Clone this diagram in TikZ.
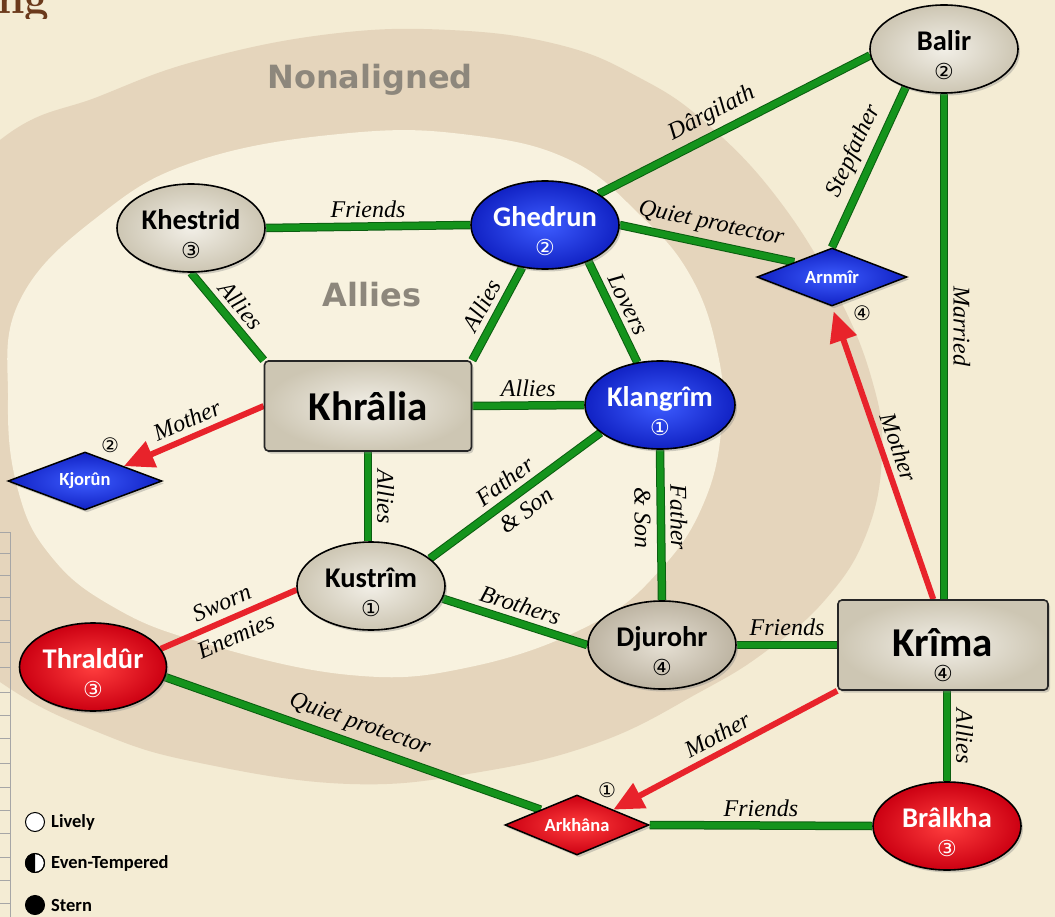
\documentclass[tikz,border=0pt]{standalone}
\usepackage{fontspec}
\newfontfamily\carlito{Carlito}
\newfontfamily\dejavu{DejaVu Sans}
\newfontfamily\libserif{Liberation Serif}
\usetikzlibrary{shapes.geometric,arrows.meta,shadows}
\pgfdeclarelayer{back}
\pgfdeclarelayer{edges}
\pgfsetlayers{back,edges,main}

\definecolor{parch}{HTML}{F4ECD4}
\definecolor{bandfill}{HTML}{E5D5BC}
\definecolor{innerfill}{HTML}{F8F2DF}
\definecolor{gline}{HTML}{14931C}
\definecolor{glinedark}{HTML}{0B5E10}
\definecolor{rline}{HTML}{E8232B}
\definecolor{graylt}{HTML}{F2EFE7}
\definecolor{graydk}{HTML}{CDC6B3}
\definecolor{djult}{HTML}{E6E0D4}
\definecolor{djudk}{HTML}{BDB4A2}
\definecolor{bluelt}{HTML}{3D5CFF}
\definecolor{bluedk}{HTML}{1122C4}
\definecolor{redlt}{HTML}{FF3E3E}
\definecolor{reddk}{HTML}{CC0012}
\definecolor{regiontext}{HTML}{8D877C}
\definecolor{titlebrown}{HTML}{6B3A1C}

\newcommand{\nmfont}{\carlito\bfseries\fontsize{28.5}{30}\selectfont}
\newcommand{\bigfont}{\carlito\bfseries\fontsize{41}{40}\selectfont}
\newcommand{\dmfont}{\carlito\bfseries\fontsize{18.5}{20}\selectfont}
\newcommand{\numf}{\dejavu\mdseries\upshape\fontsize{22}{22}\selectfont}
\newcommand{\onumf}{\dejavu\mdseries\upshape\fontsize{20}{20}\selectfont}
\newcommand{\lblfont}{\libserif\itshape\fontsize{24}{26}\selectfont}
\newcommand{\lbltwofont}{\libserif\itshape\fontsize{24}{36}\selectfont}
\newcommand{\legfont}{\carlito\bfseries\fontsize{18.5}{20}\selectfont}
\newcommand{\regfont}{\dejavu\bfseries\fontsize{32}{34}\selectfont}
\newcommand{\tstrut}{\rule{0pt}{33pt}}
\newcommand{\bstrut}{\rule{0pt}{49pt}}

\tikzset{
  shad/.style={drop shadow={shadow xshift=2pt, shadow yshift=-2.5pt, opacity=0.35}},
  pers/.style={ellipse, draw=black, line width=1.6pt, minimum width=148pt,
    minimum height=88pt, inner sep=0pt, align=center, font=\nmfont, shad},
  grayp/.style={pers, inner color=graylt, outer color=graydk, text=black},
  djup/.style={pers, inner color=djult, outer color=djudk, text=black},
  bluep/.style={pers, inner color=bluelt, outer color=bluedk, text=white},
  redp/.style={pers, inner color=redlt, outer color=reddk, text=white},
  dia/.style={diamond, aspect=2.5, draw=black, line width=1.5pt, minimum width=150pt,
    minimum height=58pt, inner sep=0pt, font=\dmfont, text=white, shad},
  bluedia/.style={dia, inner color=bluelt, outer color=bluedk},
  reddia/.style={dia, inner color=redlt, outer color=reddk},
  box/.style={rectangle, rounded corners=4pt, draw=black!85, line width=1.6pt,
    minimum width=207pt, minimum height=90pt, inner color=graylt, outer color=graydk,
    align=center, font=\bigfont, text=black, shad},
  gedge/.style={draw=gline, line width=6.5pt, preaction={draw=glinedark, line width=8.5pt}},
  redge/.style={draw=rline, line width=6pt},
  rarrow/.style={redge, -{Triangle[length=30pt,width=27pt]}},
  lbl/.style={font=\lblfont, text=black, inner sep=2pt},
  lbltwo/.style={font=\lbltwofont, text=black, inner sep=0pt, align=center},
  outnum/.style={font=\onumf, text=black, inner sep=0pt},
  legdot/.style={circle, draw=black, line width=1pt, minimum size=19pt, inner sep=0pt},
  legtext/.style={anchor=west, font=\legfont, text=black, inner sep=0pt},
  region/.style={font=\regfont, text=regiontext},
  tick/.style={draw=black!35, line width=0.8pt}
}

\begin{document}
\begin{tikzpicture}[x=1pt, y=-1pt]
\useasboundingbox (0,0) rectangle (1055,917);

\begin{pgfonlayer}{back}
  \clip (0,0) rectangle (1055,917);
  \fill[parch] (0,0) rectangle (1055,917);
  \fill[bandfill] plot[smooth cycle, tension=0.7] coordinates {
    (-150,420) (-110,260) (0,140) (100,96) (200,60) (330,34) (450,30) (560,45)
    (640,78) (705,122) (775,195) (835,290) (872,380) (882,455) (866,535)
    (825,600) (765,652) (700,692) (600,742) (480,772) (350,784) (200,763)
    (100,733) (0,682) (-110,590)};
  \fill[innerfill] plot[smooth cycle, tension=0.7] coordinates {
    (8,400) (20,300) (100,215) (200,160) (350,133) (470,135) (570,160)
    (640,215) (690,275) (717,350) (722,420) (705,500) (660,570) (590,625)
    (470,667) (350,675) (200,642) (110,605) (50,555) (18,490)};
  \node[region] (nonal) at (370,80) {Nonaligned};
  \node[region] (allreg) at (372,295) {Allies};
  % table fragment on the left edge
  \draw[tick] (10,532) -- (10,917);
  \foreach \yy in {532,553,575,597,620,642,667,692,715,738,763,787,810,833,857,880,903}
    \draw[tick] (0,\yy) -- (10,\yy);
  \begin{scope}
    \clip (0,0) rectangle (70,19);
    \node[anchor=base west, inner sep=0pt, text=titlebrown,
      font=\rmfamily\bfseries\fontsize{44}{44}\selectfont] (title) at (-3,14) {ng};
  \end{scope}
\end{pgfonlayer}

% nodes
\node[grayp] (khe) at (191,228) {\tstrut Khestrid\\[-1pt]{\numf ③}};
\node[bluep] (ghe) at (545,225) {\tstrut Ghedrun\\[-1pt]{\numf ②}};
\node[grayp] (bal) at (944,49) {\tstrut Balir\\[-1pt]{\numf ②}};
\node[bluedia] (arn) at (832,277) {Arnmîr};
\node[box] (khr) at (368,406) {Khrâlia};
\node[bluep, minimum width=150pt] (kla) at (660,405) {\tstrut Klangrîm\\[-1pt]{\numf ①}};
\node[bluedia, minimum width=154pt] (kjo) at (85,481) {Kjorûn};
\node[grayp, minimum height=86pt] (kus) at (371,586) {\tstrut Kustrîm\\[-1pt]{\numf ①}};
\node[djup] (dju) at (662,645) {\tstrut Djurohr\\[-1pt]{\numf ④}};
\node[box, minimum width=210pt] (kri) at (943,645) {\bstrut Krîma\\[-15pt]{\numf ④}};
\node[redp, minimum width=147pt, minimum height=86pt] (thr) at (93,667) {\tstrut Thraldûr\\[-1pt]{\numf ③}};
\node[reddia, minimum width=144pt, minimum height=60pt] (ark) at (577,825) {Arkhâna};
\node[redp] (bra) at (947,826) {\tstrut Brâlkha\\[-1pt]{\numf ③}};

\node[outnum] (arnnum) at (862,313) {④};
\node[outnum] (kjonum) at (110,445) {②};
\node[outnum] (arknum) at (607,790) {①};

% connectors
\begin{pgfonlayer}{edges}
\draw[gedge] (khe.east) -- node[lbl,above=4pt] {Friends} (ghe.west);
\draw[gedge] (khe.south) -- node[lbl,sloped,above=4pt] {Allies} (khr.north west);
\draw[gedge] (ghe) -- node[lbl,sloped,above=4pt] {Allies} (khr.north east);
\draw[gedge] (ghe.-40) -- node[lbl,sloped,above=4pt] {Lovers} (kla.118);
\draw[gedge] (ghe.30) -- node[lbl,sloped,above=4pt,pos=0.45] {Dârgilath} (bal.185);
\draw[gedge] (ghe.east) -- node[lbl,sloped,above=4pt] {Quiet protector} (arn.north west);
\draw[gedge] (bal.225) -- node[lbl,sloped,above=4pt,pos=0.45] {Stepfather} (arn.north);
\draw[gedge] (bal.south) -- node[lbl,sloped,above=4pt,pos=0.46] {Married} (bal.south |- kri.north);
\draw[gedge] (khr.east) -- node[lbl,above=4pt] {Allies} (kla.west);
\draw[gedge] (khr.south) -- node[lbl,sloped,above=4pt] {Allies} (khr.south |- kus.north);
\draw[gedge] (kla.205) -- node[lbltwo,sloped] {Father\\\& Son} (kus.25);
\draw[gedge] (kla.south) -- node[lbltwo,sloped,pos=0.45] {Father\\\& Son} (dju.north);
\draw[gedge] (kus.-10) -- node[lbl,sloped,above=4pt] {Brothers} (dju.west);
\draw[gedge] (dju.east) -- node[lbl,above=4pt] {Friends} (kri.west);
\draw[gedge] (thr.-8) -- node[lbl,sloped,above=4pt] {Quiet protector} (ark.north west);
\draw[gedge] (ark.east) -- node[lbl,above=4pt] {Friends} (bra.west);
\draw[gedge] (kri.south -| bra.north) -- node[lbl,sloped,above=4pt] {Allies} (bra.north);
\draw[redge] (kus.183) -- node[lbltwo,sloped] {Sworn\\Enemies} (thr.15);
\draw[rarrow] (khr.west) -- node[lbl,sloped,above=4pt] {Mother} (kjo.north east);
\draw[rarrow, shorten >=5pt] (kri.102) -- node[lbl,sloped,above=4pt] {Mother} (arn.south);
\draw[rarrow] (kri.south west) -- node[lbl,sloped,above=4pt] {Mother} (ark.north east);
\end{pgfonlayer}

% legend
\node[legdot, fill=white] (lively) at (35,822) {};
\node[legtext] (livelyt) at (51,822) {Lively};
\node[legdot, fill=white] (even) at (35,863) {};
\begin{scope}
  \clip (20,850) rectangle (35,876);
  \fill[black] (35,863) circle[radius=9.5];
\end{scope}
\draw[black, line width=1pt] (35,863) circle[radius=9.5];
\node[legtext] (event) at (51,863) {Even-Tempered};
\node[legdot, fill=black] (stern) at (35,905) {};
\node[legtext] (sternt) at (51,905) {Stern};
\end{tikzpicture}
\end{document}
